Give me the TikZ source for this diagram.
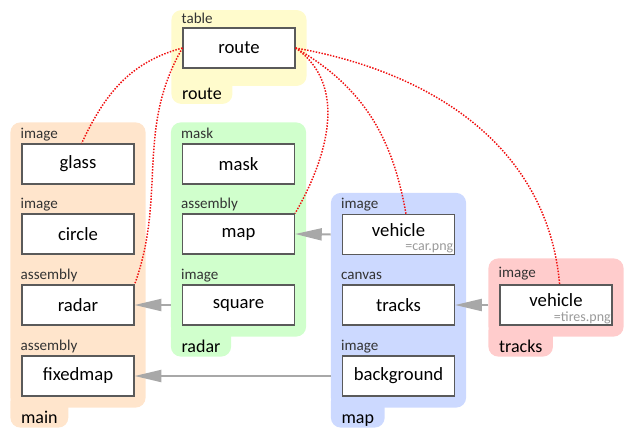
\documentclass[tikz,border=0pt]{standalone}
\usepackage{fontspec}
\setmainfont{Carlito}
\usetikzlibrary{arrows.meta,positioning,fit,calc,backgrounds}
\definecolor{grpyellow}{HTML}{FFFBCC}
\definecolor{grppeach}{HTML}{FFE5CC}
\definecolor{grpgreen}{HTML}{D0FFCC}
\definecolor{grpblue}{HTML}{CCD9FF}
\definecolor{grppink}{HTML}{FFCCCC}
\definecolor{boxline}{HTML}{5A5A5A}
\definecolor{kindtext}{HTML}{333333}
\definecolor{filetext}{HTML}{9A9A9A}
\definecolor{deparrow}{HTML}{A8A8A8}
\definecolor{refred}{HTML}{F01010}

\begin{document}
\begin{tikzpicture}[
  x=0.75pt, y=-0.75pt, >=Latex,
  box/.style={draw=boxline, line width=0.9pt, fill=white, minimum width=84pt, minimum height=30pt, inner sep=0pt, font=\fontsize{14}{16}\selectfont},
  filebox/.style={box, text depth=7pt},
  kind/.style={anchor=base west, inner sep=0pt, text=kindtext, font=\fontsize{11.3}{13}\selectfont},
  file/.style={anchor=south east, inner sep=1.2pt, text=filetext, font=\fontsize{10.5}{12}\selectfont},
  grp/.style={fill=#1, rounded corners=7.5pt, inner xsep=8.25pt, inner ysep=8.25pt},
  tab/.style={fill=#1, rounded corners=7.5pt, anchor=south west, text height=21pt, text depth=0pt, inner ysep=3pt, inner xsep=8pt, font=\fontsize{13.5}{15}\selectfont},
  dep/.style={draw=deparrow, line width=1.5pt, -{Triangle[length=20pt,width=9pt]}},
  ref/.style={draw=refred, line width=1.1pt, dash pattern=on 1.1pt off 1.1pt},
]
\useasboundingbox (0,0) rectangle (635,435);
% route (table)
\node[box] (broute) at (239,48) {route};
\node[kind] (kroute) at ($(broute.north west)+(-1,-4)$) {table};
% main column
\node[box] (bglass) at (78,164) {glass};
\node[box] (bcircle) at (78,234) {circle};
\node[box] (bradar) at (78,305) {radar};
\node[box] (bfixedmap) at (78,376) {fixedmap};
\node[kind] (kglass) at ($(bglass.north west)+(-1,-5)$) {image};
\node[kind] (kcircle) at ($(bcircle.north west)+(-1,-5)$) {image};
\node[kind] (kradar) at ($(bradar.north west)+(-1,-5)$) {assembly};
\node[kind] (kfixedmap) at ($(bfixedmap.north west)+(-1,-5)$) {assembly};
% radar column
\node[box] (bmask) at (238.5,164) {mask};
\node[box] (bmap) at (238.5,234) {map};
\node[box] (bsquare) at (238.5,305) {square};
\node[kind] (kmask) at ($(bmask.north west)+(-1,-5)$) {mask};
\node[kind] (kmap) at ($(bmap.north west)+(-1,-5)$) {assembly};
\node[kind] (ksquare) at ($(bsquare.north west)+(-1,-5)$) {image};
% map column
\node[filebox] (bvehicle) at (398.5,234.5) {vehicle};
\node[file] (fvehicle) at (bvehicle.south east) {=car.png};
\node[box] (btracks) at (398.5,305) {tracks};
\node[box] (bbackground) at (398.5,376) {background};
\node[kind] (kvehicle) at ($(bvehicle.north west)+(-1,-5)$) {image};
\node[kind] (ktracks) at ($(btracks.north west)+(-1,-5)$) {canvas};
\node[kind] (kbackground) at ($(bbackground.north west)+(-1,-5)$) {image};
% tracks
\node[filebox] (btires) at (556,305) {vehicle};
\node[file] (ftires) at (btires.south east) {=tires.png};
\node[kind] (ktires) at ($(btires.north west)+(-1,-7)$) {image};
% tops of the groups
\coordinate (mtop) at ($(bglass.north)+(0,-10)$);
\coordinate (rtop) at ($(bmask.north)+(0,-10)$);
\coordinate (ptop) at ($(bvehicle.north)+(0,-10)$);
\coordinate (ttop) at ($(btires.north)+(0,-15)$);
% groups with their name tabs
\begin{scope}[on background layer]
  \node[grp=grpyellow, inner ysep=13pt, fit=(broute)] (groute) {};
  \node[tab=grpyellow] (troute) at ($(groute.south west)+(0,18)$) {route};
  \node[grp=grppeach, fit=(mtop)(bfixedmap)] (gmain) {};
  \node[tab=grppeach] (tmain) at ($(gmain.south west)+(0,20)$) {main};
  \node[grp=grpgreen, fit=(rtop)(bsquare)] (gradar) {};
  \node[tab=grpgreen] (tradar) at ($(gradar.south west)+(0,20)$) {radar};
  \node[grp=grpblue, fit=(ptop)(bbackground)] (gmap) {};
  \node[tab=grpblue] (tmap) at ($(gmap.south west)+(0,20)$) {map};
  \node[grp=grppink, fit=(ttop)(btires)] (gtracks) {};
  \node[tab=grppink] (ttracks) at ($(gtracks.south west)+(0,20)$) {tracks};
\end{scope}
% assemblies use the groups
\draw[dep] (gradar.west |- bsquare.west) -- (bradar.east);
\draw[dep] (gmap.west |- bvehicle.west) -- (bmap.east);
\draw[dep] (gtracks.west |- btires.west) -- (btracks.east);
\draw[dep] (gmap.west |- bbackground.west) -- (bfixedmap.east);
% references from the route table
\draw[ref] (broute.west) to[out=195, in=65] (bglass.80);
\draw[ref] (broute.west) to[out=240, in=70] (bradar.north east);
\draw[ref] (broute.east) to[out=-35, in=60] (bmap.north east);
\draw[ref] (broute.east) to[out=-30, in=100] (bvehicle.70);
\draw[ref] (broute.east) to[out=-10, in=95] (btires.80);
\end{tikzpicture}
\end{document}
